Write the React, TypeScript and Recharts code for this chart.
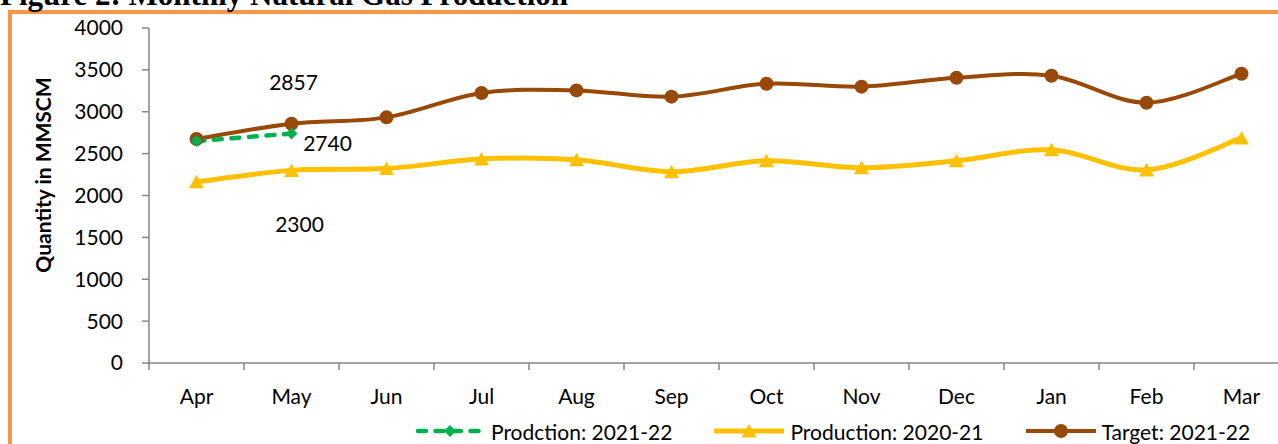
import React from 'react';
import { LineChart, Line, XAxis, YAxis, Legend, LabelList, Label } from 'recharts';

const MONTHS = ['Apr', 'May', 'Jun', 'Jul', 'Aug', 'Sep', 'Oct', 'Nov', 'Dec', 'Jan', 'Feb', 'Mar'];
const PROD_2021_22 = [2650, 2740, null, null, null, null, null, null, null, null, null, null];
const PROD_2020_21 = [2163, 2300, 2322, 2436, 2427, 2285, 2415, 2330, 2415, 2545, 2305, 2687];
const TARGET_2021_22 = [2675, 2857, 2933, 3224, 3255, 3180, 3335, 3300, 3405, 3430, 3108, 3454];
const Y_TICKS = [0, 500, 1000, 1500, 2000, 2500, 3000, 3500, 4000];

const TITLE = 'Figure 2: Monthly Natural Gas Production';
const Y_LABEL = 'Quantity in MMSCM';

const GREEN = '#00B050';
const YELLOW = '#FFC000';
const BROWN = '#984807';
const AXIS = '#868686';
const FONT = 'Lato, "Open Sans", sans-serif';

const data = MONTHS.map((m, i) => ({
  month: m,
  p2122: PROD_2021_22[i],
  p2021: PROD_2020_21[i],
  target: TARGET_2021_22[i],
}));

// Excel-like smoothing (Catmull-Rom style bezier)
function excelCurve(context: any) {
  let pts: number[][] = [];
  return {
    areaStart() {},
    areaEnd() {},
    lineStart() {
      pts = [];
    },
    point(x: number, y: number) {
      pts.push([+x, +y]);
    },
    lineEnd() {
      if (!pts.length) return;
      context.moveTo(pts[0][0], pts[0][1]);
      for (let i = 0; i < pts.length - 1; i++) {
        const p0 = pts[i - 1] || pts[i];
        const p1 = pts[i];
        const p2 = pts[i + 1];
        const p3 = pts[i + 2] || p2;
        context.bezierCurveTo(
          p1[0] + (p2[0] - p0[0]) / 6,
          p1[1] + (p2[1] - p0[1]) / 6,
          p2[0] - (p3[0] - p1[0]) / 6,
          p2[1] - (p3[1] - p1[1]) / 6,
          p2[0],
          p2[1]
        );
      }
    },
  };
}

const Diamond = (props: any) => {
  const { cx, cy } = props;
  if (cx == null || cy == null || props.value == null) return <g key={props.key} />;
  const s = 6;
  return <path key={props.key} d={`M${cx},${cy - s}L${cx + s},${cy}L${cx},${cy + s}L${cx - s},${cy}Z`} fill={GREEN} />;
};
const Triangle = (props: any) => {
  const { cx, cy } = props;
  if (cx == null || cy == null) return <g key={props.key} />;
  return <path key={props.key} d={`M${cx},${cy - 7}L${cx + 7.5},${cy + 6.5}L${cx - 7.5},${cy + 6.5}Z`} fill={YELLOW} />;
};
const Circle = (props: any) => {
  const { cx, cy } = props;
  if (cx == null || cy == null) return <g key={props.key} />;
  return <circle key={props.key} cx={cx} cy={cy} r={7} fill={BROWN} />;
};

const makeLabel = (showIndex: number, dx: number, dy: number) => (props: any) => {
  const { x, y, value, index } = props;
  if (index !== showIndex || value == null) return null;
  return (
    <text x={x + dx} y={y + dy} textAnchor="middle" dominantBaseline="central" fontSize={21} fill="#000" fontFamily={FONT}>
      {value}
    </text>
  );
};

// Month label plus Excel-style tick mark on the category boundary
const TICK_SIZE = 7;
const TICK_MARGIN = 19;
const MonthTick = (props: any) => {
  const { x, y, payload, index } = props;
  const half = payload && payload.offset != null ? payload.offset : 47.5;
  const axisY = y - TICK_SIZE - TICK_MARGIN;
  return (
    <g>
      <line x1={x - half} y1={axisY} x2={x - half} y2={axisY + TICK_SIZE} stroke={AXIS} strokeWidth={1.5} />
      {index === MONTHS.length - 1 && (
        <line x1={x + half} y1={axisY} x2={x + half} y2={axisY + TICK_SIZE} stroke={AXIS} strokeWidth={1.5} />
      )}
      <text x={x} y={y} dy="0.71em" textAnchor="middle" fontSize={21} fill="#000" fontFamily={FONT}>
        {payload.value}
      </text>
    </g>
  );
};

const SERIES = [
  { key: 'p2122', name: 'Prodction: 2021-22', color: GREEN, kind: 'diamond' },
  { key: 'p2021', name: 'Production: 2020-21', color: YELLOW, kind: 'triangle' },
  { key: 'target', name: 'Target: 2021-22', color: BROWN, kind: 'circle' },
];

const LegendIcon = ({ kind, color }: { kind: string; color: string }) => (
  <svg width={70} height={18} style={{ display: 'block' }}>
    {kind === 'diamond' ? (
      <line x1={3} y1={9} x2={67} y2={9} stroke={color} strokeWidth={4.5} strokeDasharray="8 9.5" strokeLinecap="round" />
    ) : (
      <line x1={0} y1={9} x2={70} y2={9} stroke={color} strokeWidth={kind === 'triangle' ? 5 : 4} />
    )}
    {kind === 'diamond' && <path d="M35,3L41,9L35,15L29,9Z" fill={color} />}
    {kind === 'triangle' && <path d="M35,2L42.5,15.5L27.5,15.5Z" fill={color} />}
    {kind === 'circle' && <circle cx={35} cy={9} r={7} fill={color} />}
  </svg>
);

const renderLegend = () => (
  <div style={{ display: 'flex', alignItems: 'center', height: 26, paddingLeft: 415, fontFamily: FONT, fontSize: 21, color: '#000' }}>
    {SERIES.map((s, i) => (
      <div key={s.key} style={{ display: 'flex', alignItems: 'center', marginRight: i < SERIES.length - 1 ? 42 : 0 }}>
        <LegendIcon kind={s.kind} color={s.color} />
        <span style={{ marginLeft: 6, whiteSpace: 'nowrap' }}>{s.name}</span>
      </div>
    ))}
  </div>
);

export default function App() {
  return (
    <div style={{ position: 'absolute', left: 0, top: 0, width: 1278, height: 444, overflow: 'hidden', background: '#fff' }}>
      <div style={{ position: 'absolute', left: 8, top: 10, width: 1400, height: 600, border: '4px solid #F79646', boxSizing: 'border-box' }} />
      <svg style={{ position: 'absolute', left: 0, top: 0 }} width={700} height={12}>
        <text x={0} y={5} fontFamily='"Liberation Serif", "Times New Roman", serif' fontWeight="bold" fontSize={31} fill="#000">
          {TITLE}
        </text>
      </svg>
      <div style={{ position: 'absolute', left: 0, top: 0, fontFamily: FONT }}>
        <LineChart width={1300} height={444} data={data} margin={{ top: 28, right: 11, bottom: 0, left: 0 }}>
          <XAxis
            dataKey="month"
            scale="band"
            tickLine={false}
            tickSize={TICK_SIZE}
            tickMargin={TICK_MARGIN}
            axisLine={{ stroke: AXIS, strokeWidth: 1.5 }}
            tick={<MonthTick />}
            height={55}
            interval={0}
          />
          <YAxis
            domain={[0, 4000]}
            ticks={Y_TICKS}
            width={149}
            tickSize={7}
            tickMargin={19}
            tickLine={{ stroke: AXIS, strokeWidth: 1.5 }}
            axisLine={{ stroke: AXIS, strokeWidth: 1.5 }}
            tick={{ fontSize: 21, fill: '#000' }}
            interval={0}
          >
            <Label
              content={(props: any) => {
                const vb = props.viewBox || { x: 0, y: 28, width: 149, height: 335 };
                const cx = vb.x + 42.5;
                const cy = vb.y + vb.height / 2 - 20.5;
                return (
                  <text x={cx} y={cy} transform={`rotate(-90, ${cx}, ${cy})`} textAnchor="middle" dominantBaseline="central" fontSize={21} fontWeight="bold" fill="#000" fontFamily={FONT}>
                    {Y_LABEL}
                  </text>
                );
              }}
            />
          </YAxis>
          <Legend verticalAlign="bottom" content={renderLegend} wrapperStyle={{ left: 0, width: 1300 }} />
          <Line
            dataKey="target"
            name={SERIES[2].name}
            stroke={BROWN}
            strokeWidth={4}
            type={excelCurve as any}
            dot={Circle}
            activeDot={false}
            isAnimationActive={false}
          >
            <LabelList dataKey="target" content={makeLabel(1, 2, -42)} />
          </Line>
          <Line
            dataKey="p2021"
            name={SERIES[1].name}
            stroke={YELLOW}
            strokeWidth={5}
            type={excelCurve as any}
            dot={Triangle}
            activeDot={false}
            isAnimationActive={false}
          >
            <LabelList dataKey="p2021" content={makeLabel(1, 8, 53)} />
          </Line>
          <Line
            dataKey="p2122"
            name={SERIES[0].name}
            stroke={GREEN}
            strokeWidth={4.5}
            strokeDasharray="8 9.5"
            strokeLinecap="round"
            type={excelCurve as any}
            dot={Diamond}
            activeDot={false}
            isAnimationActive={false}
          >
            <LabelList dataKey="p2122" content={makeLabel(1, 36, 9)} />
          </Line>
        </LineChart>
      </div>
    </div>
  );
}
